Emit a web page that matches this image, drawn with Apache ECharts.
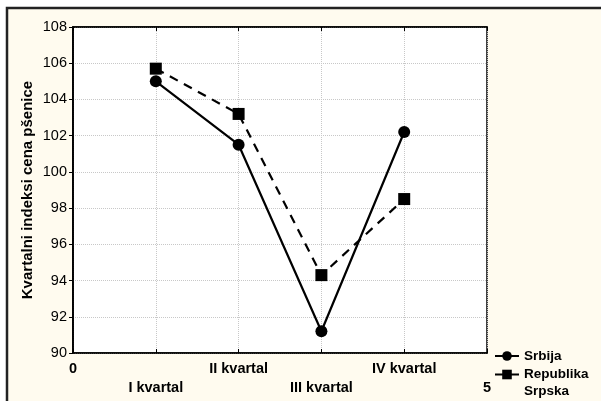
<!DOCTYPE html>
<html>
<head>
<meta charset="utf-8">
<script src="https://cdn.jsdelivr.net/npm/echarts@6/dist/echarts.min.js"></script>
<style>
html,body{margin:0;padding:0;background:#fff;}
#c{width:601px;height:401px;}
</style>
</head>
<body>
<div id="c"></div>
<script>
var xTickLabels = ['0', 'I kvartal', 'II kvartal', 'III kvartal', 'IV kvartal', '5'];
var xPositions = [1, 2, 3, 4];
var srbija = [105.0, 101.5, 91.2, 102.2];
var republikaSrpska = [105.7, 103.2, 94.3, 98.5];
var seriesNames = ['Srbija', 'Republika Srpska'];
var yAxisName = 'Kvartalni indeksi cena pšenice';

var chart = echarts.init(document.getElementById('c'));
var font = 'Arial, "Liberation Sans", sans-serif';

function pairs(vals) {
  return vals.map(function (v, i) { return [xPositions[i], v]; });
}

chart.setOption({
  animation: false,
  backgroundColor: '#fff',
  graphic: [{
    type: 'rect',
    shape: { x: 7, y: 8, width: 620, height: 420 },
    style: { fill: '#fffbef', stroke: '#222', lineWidth: 2.5 },
    z: -10, silent: true
  }],
  grid: {
    left: 73, right: 114, top: 27, bottom: 48,
    show: true, backgroundColor: '#fff', borderColor: '#000', borderWidth: 1.5
  },
  legend: [{
    data: [{ name: seriesNames[0] }],
    orient: 'vertical',
    left: 492, top: 347,
    itemWidth: 24, itemHeight: 12,
    padding: 2,
    textStyle: { fontFamily: font, fontWeight: 'bold', fontSize: 13.5, color: '#000' }
  }, {
    data: [{ name: seriesNames[1] }],
    orient: 'vertical',
    left: 492, top: 347,
    itemWidth: 24, itemHeight: 12,
    padding: 2,
    formatter: function (n) { return '\n' + n.replace(' ', '\n'); },
    textStyle: { fontFamily: font, fontWeight: 'bold', fontSize: 13.5, color: '#000', lineHeight: 17 }
  }],
  xAxis: [{
    type: 'value', min: 0, max: 5, interval: 1,
    axisLine: { show: true, lineStyle: { color: '#000', width: 1.5 } },
    axisTick: { show: true, inside: true, length: 4, lineStyle: { color: '#000' } },
    splitLine: { show: true, lineStyle: { color: '#c8c8c8', type: 'dotted', width: 1 } },
    axisLabel: {
      margin: 6,
      fontFamily: font, fontWeight: 'bold', fontSize: 14.5, color: '#000', lineHeight: 19,
      formatter: function (v) {
        var i = Math.round(v);
        return (i % 2 === 1 ? '\n' : '') + xTickLabels[i];
      }
    }
  }, {
    type: 'value', min: 0, max: 5, interval: 1, position: 'top',
    axisLine: { show: true, lineStyle: { color: '#000', width: 1.5 } },
    axisTick: { show: true, inside: true, length: 4, lineStyle: { color: '#000' } },
    axisLabel: { show: false },
    splitLine: { show: false }
  }],
  yAxis: [{
    type: 'value', min: 90, max: 108, interval: 2,
    name: yAxisName, nameLocation: 'middle', nameGap: 38, nameMoveOverlap: false,
    nameTextStyle: { fontFamily: font, fontWeight: 'bold', fontSize: 15, color: '#000' },
    axisLine: { show: true, lineStyle: { color: '#000', width: 1.5 } },
    axisTick: { show: true, inside: false, length: 4, lineStyle: { color: '#000' } },
    splitLine: { show: true, lineStyle: { color: '#c8c8c8', type: 'dotted', width: 1 } },
    axisLabel: { margin: 6, fontFamily: font, fontSize: 14.5, color: '#000' }
  }, {
    type: 'value', min: 90, max: 108, interval: 2, position: 'right',
    axisLine: { show: true, lineStyle: { color: '#000', width: 1.5 } },
    axisTick: { show: true, inside: true, length: 4, lineStyle: { color: '#000' } },
    axisLabel: { show: false },
    splitLine: { show: false }
  }],
  series: [{
    name: seriesNames[0], type: 'line', data: pairs(srbija),
    symbol: 'circle', symbolSize: 12,
    lineStyle: { color: '#000', width: 2.2, type: 'solid' },
    itemStyle: { color: '#000' }
  }, {
    name: seriesNames[1], type: 'line', data: pairs(republikaSrpska),
    symbol: 'rect', symbolSize: 12,
    lineStyle: { color: '#000', width: 2.2, type: [9, 7] },
    itemStyle: { color: '#000' }
  }]
});
</script>
</body>
</html>
